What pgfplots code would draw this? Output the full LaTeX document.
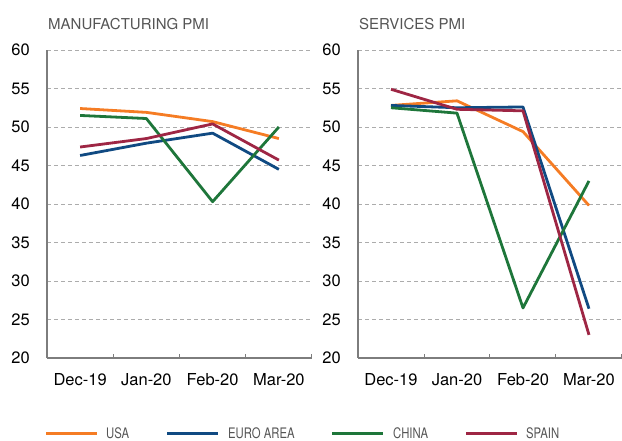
\documentclass[border=0pt]{standalone}
\usepackage{pgfplots}
\pgfplotsset{compat=1.18}
\usepackage{fontspec}
\setmainfont{TeX Gyre Heros}
\definecolor{cusa}{RGB}{245,124,36}
\definecolor{ceuro}{RGB}{16,74,130}
\definecolor{cchina}{RGB}{30,118,58}
\definecolor{cspain}{RGB}{158,38,68}
\definecolor{axgray}{RGB}{125,125,125}
\definecolor{txgray}{RGB}{85,85,85}
\pgfplotsset{
  pmi/.style={
    scale only axis, height=308pt,
    xmin=-0.5, xmax=3.5, ymin=20, ymax=60,
    axis lines*=left,
    axis line style={axgray, line width=1.5pt},
    xtick={0,1,2,3},
    xticklabels={Dec-19,Jan-20,Feb-20,Mar-20},
    minor xtick={-0.5,0.5,1.5,2.5,3.5},
    major tick length=0pt, minor tick length=3.5pt,
    minor tick style={axgray, line width=1pt},
    ytick={20,25,...,60},
    ytick style={draw=none},
    ymajorgrids,
    major grid style={gray!65, line width=0.8pt, dash pattern=on 4pt off 3pt},
    /pgf/number format/assume math mode=true,
    tick label style={font=\fontsize{16.5}{18}\selectfont, text=black},
    yticklabel style={anchor=east, inner sep=0pt, xshift=-17pt},
    xticklabel style={anchor=north, inner sep=0pt, yshift=-15pt},
    every axis plot/.append style={line width=2.8pt, no marks, line join=round},
    clip=false,
  }
}
\begin{document}
\begin{tikzpicture}[x=1pt,y=1pt]
\useasboundingbox (0,0) rectangle (622,441);
\node[anchor=west, text=txgray, font=\fontsize{15}{17}\selectfont, inner sep=0pt] at (48,417) {MANUFACTURING PMI};
\node[anchor=west, text=txgray, font=\fontsize{15}{17}\selectfont, inner sep=0pt] at (359,417) {SERVICES PMI};
\begin{axis}[pmi, width=265pt, at={(47pt,83pt)}, anchor=south west]
\addplot[cusa] coordinates {(0,52.4) (1,51.9) (2,50.7) (3,48.5)};
\addplot[ceuro] coordinates {(0,46.3) (1,47.9) (2,49.2) (3,44.5)};
\addplot[cchina] coordinates {(0,51.5) (1,51.1) (2,40.3) (3,50.0)};
\addplot[cspain] coordinates {(0,47.4) (1,48.5) (2,50.4) (3,45.7)};
\end{axis}
\begin{axis}[pmi, width=264pt, at={(358pt,83pt)}, anchor=south west]
\addplot[cusa] coordinates {(0,52.8) (1,53.4) (2,49.4) (3,39.8)};
\addplot[ceuro] coordinates {(0,52.8) (1,52.5) (2,52.6) (3,26.4)};
\addplot[cchina] coordinates {(0,52.5) (1,51.8) (2,26.5) (3,43.0)};
\addplot[cspain] coordinates {(0,54.9) (1,52.3) (2,52.1) (3,23.0)};
\end{axis}
\draw[cusa, line width=3.8pt] (46,7.5) -- (97,7.5);
\node[anchor=west, inner sep=0pt, text=txgray, font=\fontsize{14.5}{16}\selectfont] at (106,7.5) {\scalebox{0.78}[1]{USA}};
\draw[ceuro, line width=3.8pt] (167,7.5) -- (218,7.5);
\node[anchor=west, inner sep=0pt, text=txgray, font=\fontsize{14.5}{16}\selectfont] at (228,7.5) {\scalebox{0.78}[1]{EURO AREA}};
\draw[cchina, line width=3.8pt] (332,7.5) -- (383,7.5);
\node[anchor=west, inner sep=0pt, text=txgray, font=\fontsize{14.5}{16}\selectfont] at (393,7.5) {\scalebox{0.78}[1]{CHINA}};
\draw[cspain, line width=3.8pt] (466,7.5) -- (517,7.5);
\node[anchor=west, inner sep=0pt, text=txgray, font=\fontsize{14.5}{16}\selectfont] at (526,7.5) {\scalebox{0.78}[1]{SPAIN}};
\end{tikzpicture}
\end{document}
